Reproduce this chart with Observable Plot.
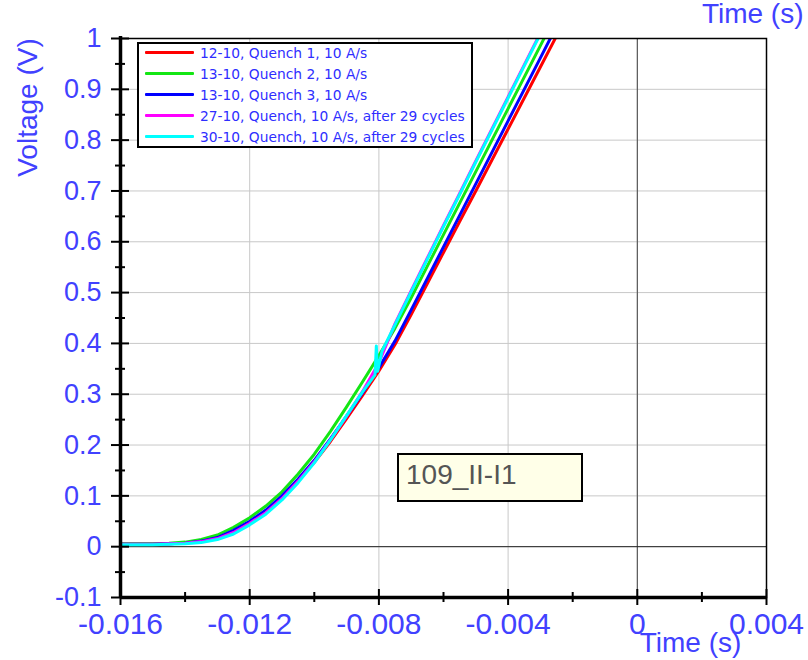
<!DOCTYPE html>
<html><head><meta charset="utf-8">
<script src="https://cdn.jsdelivr.net/npm/d3@7"></script>
<script src="https://cdn.jsdelivr.net/npm/@observablehq/plot@0.6"></script>
<style>
body{margin:0;background:#fff;}
#wrap{position:relative;width:808px;height:660px;overflow:hidden;}
#legend{position:absolute;left:137px;top:42px;width:336px;height:106px;box-sizing:border-box;border:2px solid #000;background:#fff;font-family:"DejaVu Sans",Verdana,sans-serif;font-size:13.8px;color:#2e2eff;}
.row{position:absolute;left:0;height:20px;line-height:20px;white-space:nowrap;}
.sw{position:absolute;left:6px;top:8px;width:49px;height:3px;border-radius:1px;}
.lbl{position:absolute;left:61px;top:0;}
#note{position:absolute;left:397px;top:453px;width:186px;height:49px;box-sizing:border-box;border:2px solid #000;background:#ffffe8;}
#note span{position:absolute;left:7px;top:6px;font-family:Arial,"Liberation Sans",sans-serif;font-size:28px;line-height:28px;color:#555;}
</style></head>
<body><div id="wrap"></div>
<script>
// ---- data ----
const seriesNames = ["12-10, Quench 1, 10 A/s","13-10, Quench 2, 10 A/s","13-10, Quench 3, 10 A/s","27-10, Quench, 10 A/s, after 29 cycles","30-10, Quench, 10 A/s, after 29 cycles"];
const seriesColors = ["#ff0000","#14e614","#0000ff","#ff00ff","#00ffff"];
const time = [-0.016,-0.0155,-0.015,-0.0145,-0.014,-0.0135,-0.013,-0.0125,-0.012,-0.0115,-0.011,-0.0105,-0.010,-0.0095,-0.009,-0.0085,-0.008,-0.0075,-0.007,-0.0065,-0.006,-0.0055,-0.005,-0.0045,-0.004,-0.0035,-0.003,-0.0025];
const red     = [0.005,0.005,0.005,0.006,0.007,0.010,0.017,0.030,0.048,0.069,0.097,0.130,0.166,0.207,0.252,0.298,0.346,0.398,0.457,0.518,0.579,0.640,0.700,0.761,0.822,0.883,0.944,1.005];
const green   = [0.006,0.006,0.006,0.007,0.009,0.014,0.023,0.038,0.057,0.080,0.108,0.143,0.182,0.227,0.275,0.325,0.376,0.430,0.490,0.552,0.614,0.676,0.738,0.800,0.862,0.924,0.986,1.048];
const blue    = [0.005,0.005,0.005,0.006,0.007,0.011,0.018,0.032,0.050,0.072,0.100,0.133,0.170,0.212,0.257,0.303,0.352,0.405,0.466,0.528,0.590,0.652,0.714,0.776,0.838,0.900,0.962,1.024];
const magenta = [0.005,0.005,0.005,0.006,0.007,0.010,0.016,0.028,0.046,0.067,0.095,0.129,0.167,0.210,0.257,0.306,0.362,0.439,0.504,0.568,0.632,0.695,0.759,0.822,0.885,0.948,1.011,1.074];
const cyanTime = [-0.016,-0.0155,-0.015,-0.0145,-0.014,-0.0135,-0.013,-0.0125,-0.012,-0.0115,-0.011,-0.0105,-0.010,-0.0095,-0.009,-0.0085,-0.00812,-0.00808,-0.00804,-0.0079,-0.0075,-0.007,-0.0065,-0.006,-0.0055,-0.005,-0.0045,-0.004,-0.0035,-0.003];
const cyanVolt = [0.004,0.004,0.004,0.005,0.006,0.008,0.014,0.025,0.043,0.064,0.092,0.126,0.165,0.210,0.258,0.305,0.338,0.395,0.345,0.385,0.437,0.502,0.566,0.630,0.693,0.757,0.820,0.883,0.946,1.009];
const xDomain = [-0.016, 0.004];
const yDomain = [-0.1, 1];
const xTicks = [-0.016,-0.012,-0.008,-0.004,0,0.004];
const xTickLabels = ["-0.016","-0.012","-0.008","-0.004","0","0.004"];
const xMinor = [-0.014,-0.010,-0.006,-0.002,0.002];
const yTicks = [-0.1,0,0.1,0.2,0.3,0.4,0.5,0.6,0.7,0.8,0.9,1];
const yTickLabels = ["-0.1","0","0.1","0.2","0.3","0.4","0.5","0.6","0.7","0.8","0.9","1"];
const yMinor = [-0.05,0.05,0.15,0.25,0.35,0.45,0.55,0.65,0.75,0.85,0.95];
const xTitle = "Time (s)";
const yTitle = "Voltage (V)";
const noteText = "109_II-I1";

// ---- build ----
const rows = [];
[red, green, blue, magenta].forEach((vals, i) => time.forEach((t, j) => rows.push({series: seriesNames[i], t, v: vals[j]})));
cyanTime.forEach((t, j) => rows.push({series: seriesNames[4], t, v: cyanVolt[j]}));

const labelColor = "#4141ff";
const font = "Arial, 'Liberation Sans', sans-serif";

const chart = Plot.plot({
  width: 808, height: 660,
  marginLeft: 120, marginRight: 42, marginTop: 38, marginBottom: 63,
  style: {background: "#fff", fontFamily: font, overflow: "visible"},
  x: {domain: xDomain, axis: null},
  y: {domain: yDomain, axis: null},
  color: {domain: seriesNames, range: seriesColors},
  marks: [
    Plot.ruleX(xTicks, {stroke: "#c8c8c8", strokeWidth: 1}),
    Plot.ruleY(yTicks, {stroke: "#c8c8c8", strokeWidth: 1}),
    Plot.ruleX([0], {stroke: "#444", strokeWidth: 1}),
    Plot.ruleY([0], {stroke: "#222", strokeWidth: 1}),
    Plot.line(rows, {x: "t", y: "v", z: "series", stroke: "series", strokeWidth: 3, clip: true, curve: "linear"}),
    Plot.frame({stroke: "#000", strokeWidth: 1.5}),
    Plot.ruleX([xDomain[0]], {stroke: "#000", strokeWidth: 3.5, insetTop: -2}),
    Plot.ruleY([yDomain[0]], {stroke: "#000", strokeWidth: 3.5}),
    Plot.ruleY(yTicks, {x1: () => xDomain[0], x2: () => xDomain[0], insetLeft: -9, insetRight: -9, stroke: "#000", strokeWidth: 2}),
    Plot.ruleY(yMinor, {x1: () => xDomain[0], x2: () => xDomain[0], insetLeft: -5, insetRight: -5, stroke: "#000", strokeWidth: 2}),
    Plot.ruleX(xTicks, {y1: () => yDomain[0], y2: () => yDomain[0], insetTop: -8, insetBottom: -8, stroke: "#000", strokeWidth: 2}),
    Plot.ruleX(xMinor, {y1: () => yDomain[0], y2: () => yDomain[0], insetTop: -5, insetBottom: -5, stroke: "#000", strokeWidth: 2}),
    Plot.text(yTicks, {x: () => xDomain[0], y: d => d, text: (d, i) => yTickLabels[i], textAnchor: "end", dx: -19, fill: labelColor, fontSize: 27, fontFamily: font}),
    Plot.text(xTicks, {x: d => d, y: () => yDomain[0], text: (d, i) => xTickLabels[i], dy: 27, fill: labelColor, fontSize: 30, fontFamily: font}),
    Plot.text([yTitle], {frameAnchor: "top-left", textAnchor: "middle", lineAnchor: "middle", dx: -92, dy: 69, rotate: -90, fill: labelColor, fontSize: 28, fontFamily: font}),
    Plot.text([xTitle], {frameAnchor: "bottom-right", textAnchor: "middle", lineAnchor: "middle", dx: -76, dy: 46, fill: labelColor, fontSize: 28, fontFamily: font}),
    Plot.text([xTitle], {frameAnchor: "top-right", textAnchor: "end", lineAnchor: "middle", dx: 37, dy: -24, fill: labelColor, fontSize: 28, fontFamily: font})
  ]
});

const wrap = document.getElementById("wrap");
wrap.appendChild(chart);

const legend = document.createElement("div");
legend.id = "legend";
seriesNames.forEach((name, i) => {
  const row = document.createElement("div");
  row.className = "row";
  row.style.top = (-1 + i * 21) + "px";
  row.style.width = "100%";
  const sw = document.createElement("span");
  sw.className = "sw";
  sw.style.background = seriesColors[i];
  const lbl = document.createElement("span");
  lbl.className = "lbl";
  lbl.textContent = name;
  row.appendChild(sw); row.appendChild(lbl);
  legend.appendChild(row);
});
wrap.appendChild(legend);

const note = document.createElement("div");
note.id = "note";
const ns = document.createElement("span");
ns.textContent = noteText;
note.appendChild(ns);
wrap.appendChild(note);
</script>
</body></html>
